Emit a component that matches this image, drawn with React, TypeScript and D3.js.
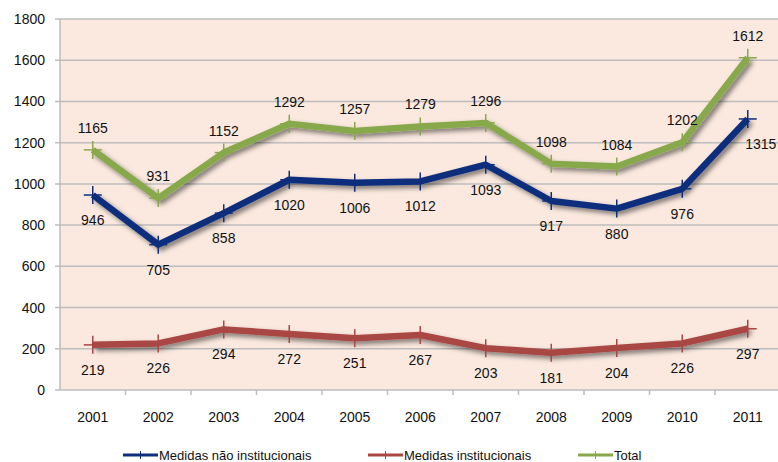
import React, { useEffect, useRef } from "react";
import * as d3 from "d3";

const years = ["2001", "2002", "2003", "2004", "2005", "2006", "2007", "2008", "2009", "2010", "2011"];
const naoInstitucionais = [946, 705, 858, 1020, 1006, 1012, 1093, 917, 880, 976, 1315];
const institucionais = [219, 226, 294, 272, 251, 267, 203, 181, 204, 226, 297];
const total = [1165, 931, 1152, 1292, 1257, 1279, 1296, 1098, 1084, 1202, 1612];
const yTicks = [0, 200, 400, 600, 800, 1000, 1200, 1400, 1600, 1800];

const seriesList = [
  { name: "Medidas não institucionais", values: naoInstitucionais, color: "#0f2f7c", labelPos: "below" },
  { name: "Medidas institucionais", values: institucionais, color: "#a94744", labelPos: "below" },
  { name: "Total", values: total, color: "#88a94b", labelPos: "above" },
];

const W = 778;
const H = 462;

const App: React.FC = () => {
  const svgRef = useRef<SVGSVGElement>(null);

  useEffect(() => {
    if (!svgRef.current) return;
    const svg = d3.select(svgRef.current);
    svg.selectAll("*").remove();

    const left = 60, right = 780.5, top = 19, bottom = 390;
    const font = "'Liberation Sans', Arial, sans-serif";

    const x = d3.scaleBand<string>().domain(years).range([left, right]);
    const y = d3.scaleLinear().domain([0, 1800]).range([bottom, top]);
    const cx = (d: string) => (x(d) as number) + x.bandwidth() / 2;

    const defs = svg.append("defs");
    const filter = defs.append("filter").attr("id", "shadow")
      .attr("x", "-10%").attr("y", "-30%").attr("width", "130%").attr("height", "180%");
    filter.append("feDropShadow")
      .attr("dx", 3).attr("dy", 3).attr("stdDeviation", 2.5)
      .attr("flood-color", "#000").attr("flood-opacity", 0.5);

    // plot background
    svg.append("rect")
      .attr("x", left).attr("y", top)
      .attr("width", W - left).attr("height", bottom - top)
      .attr("fill", "#fbe9df");

    // gridlines
    svg.append("g").selectAll("line")
      .data(yTicks.filter((t) => t > 0))
      .enter().append("line")
      .attr("x1", left - 5).attr("x2", W)
      .attr("y1", (d) => y(d)).attr("y2", (d) => y(d))
      .attr("stroke", "#bdbdbd").attr("stroke-width", 1.5);

    // axes
    svg.append("line")
      .attr("x1", left).attr("x2", left).attr("y1", top).attr("y2", bottom)
      .attr("stroke", "#bdbdbd").attr("stroke-width", 1.5);
    svg.append("line")
      .attr("x1", left - 5).attr("x2", W).attr("y1", bottom).attr("y2", bottom)
      .attr("stroke", "#bdbdbd").attr("stroke-width", 1.5);

    svg.append("g").selectAll("text")
      .data(yTicks).enter().append("text")
      .attr("x", 45).attr("y", (d) => y(d) + 5)
      .attr("text-anchor", "end")
      .style("font-family", font).style("font-size", "14px").attr("fill", "#111")
      .text((d) => d);

    // x ticks (category boundaries)
    svg.append("g").selectAll("line")
      .data(years.slice(1)).enter().append("line")
      .attr("x1", (d) => x(d) as number).attr("x2", (d) => x(d) as number)
      .attr("y1", bottom).attr("y2", bottom + 5)
      .attr("stroke", "#bdbdbd").attr("stroke-width", 1.5);

    svg.append("g").selectAll("text")
      .data(years).enter().append("text")
      .attr("x", (d) => cx(d)).attr("y", 422)
      .attr("text-anchor", "middle")
      .style("font-family", font).style("font-size", "14px").attr("fill", "#111")
      .text((d) => d);

    const line = d3.line<number>()
      .x((_, i) => cx(years[i]))
      .y((d) => y(d));

    seriesList.forEach((s) => {
      const g = svg.append("g");
      g.append("path")
        .attr("d", line(s.values) as string)
        .attr("fill", "none")
        .attr("stroke", s.color)
        .attr("stroke-width", 6.5)
        .attr("stroke-linejoin", "round")
        .attr("filter", "url(#shadow)");

      // plus markers
      const m = g.selectAll(".mk").data(s.values).enter().append("g")
        .attr("transform", (d, i) => `translate(${cx(years[i])},${y(d)})`);
      m.append("line").attr("x1", 0).attr("x2", 0).attr("y1", -9).attr("y2", 9)
        .attr("stroke", s.color).attr("stroke-width", 1.5);
      m.append("line").attr("x1", -9).attr("x2", 9).attr("y1", 0).attr("y2", 0)
        .attr("stroke", s.color).attr("stroke-width", 1.5);
    });

    // data labels
    seriesList.forEach((s) => {
      svg.append("g").selectAll("text")
        .data(s.values).enter().append("text")
        .attr("x", (d, i) => cx(years[i]) + (s.values === naoInstitucionais && i === s.values.length - 1 ? 13 : 0))
        .attr("y", (d) => (s.labelPos === "above" ? y(d) - 17 : y(d) + 30))
        .attr("text-anchor", "middle")
        .style("font-family", font).style("font-size", "14px").attr("fill", "#111")
        .text((d) => d);
    });

    // legend
    const legendX = [123, 368, 578];
    seriesList.forEach((s, i) => {
      const lg = svg.append("g").attr("transform", `translate(${legendX[i]},455)`);
      lg.append("line").attr("x1", 0).attr("x2", 35).attr("y1", 0).attr("y2", 0)
        .attr("stroke", s.color).attr("stroke-width", 3);
      lg.append("line").attr("x1", 17.5).attr("x2", 17.5).attr("y1", -4).attr("y2", 4)
        .attr("stroke", s.color).attr("stroke-width", 1);
      lg.append("text").attr("x", 36).attr("y", 5)
        .style("font-family", font).style("font-size", "13px").attr("fill", "#111")
        .text(s.name);
    });
  }, []);

  return (
    <svg
      ref={svgRef}
      width={W}
      height={H}
      viewBox={`0 0 ${W} ${H}`}
      style={{ position: "absolute", left: 0, top: 0, background: "#fff" }}
    />
  );
};

export default App;
